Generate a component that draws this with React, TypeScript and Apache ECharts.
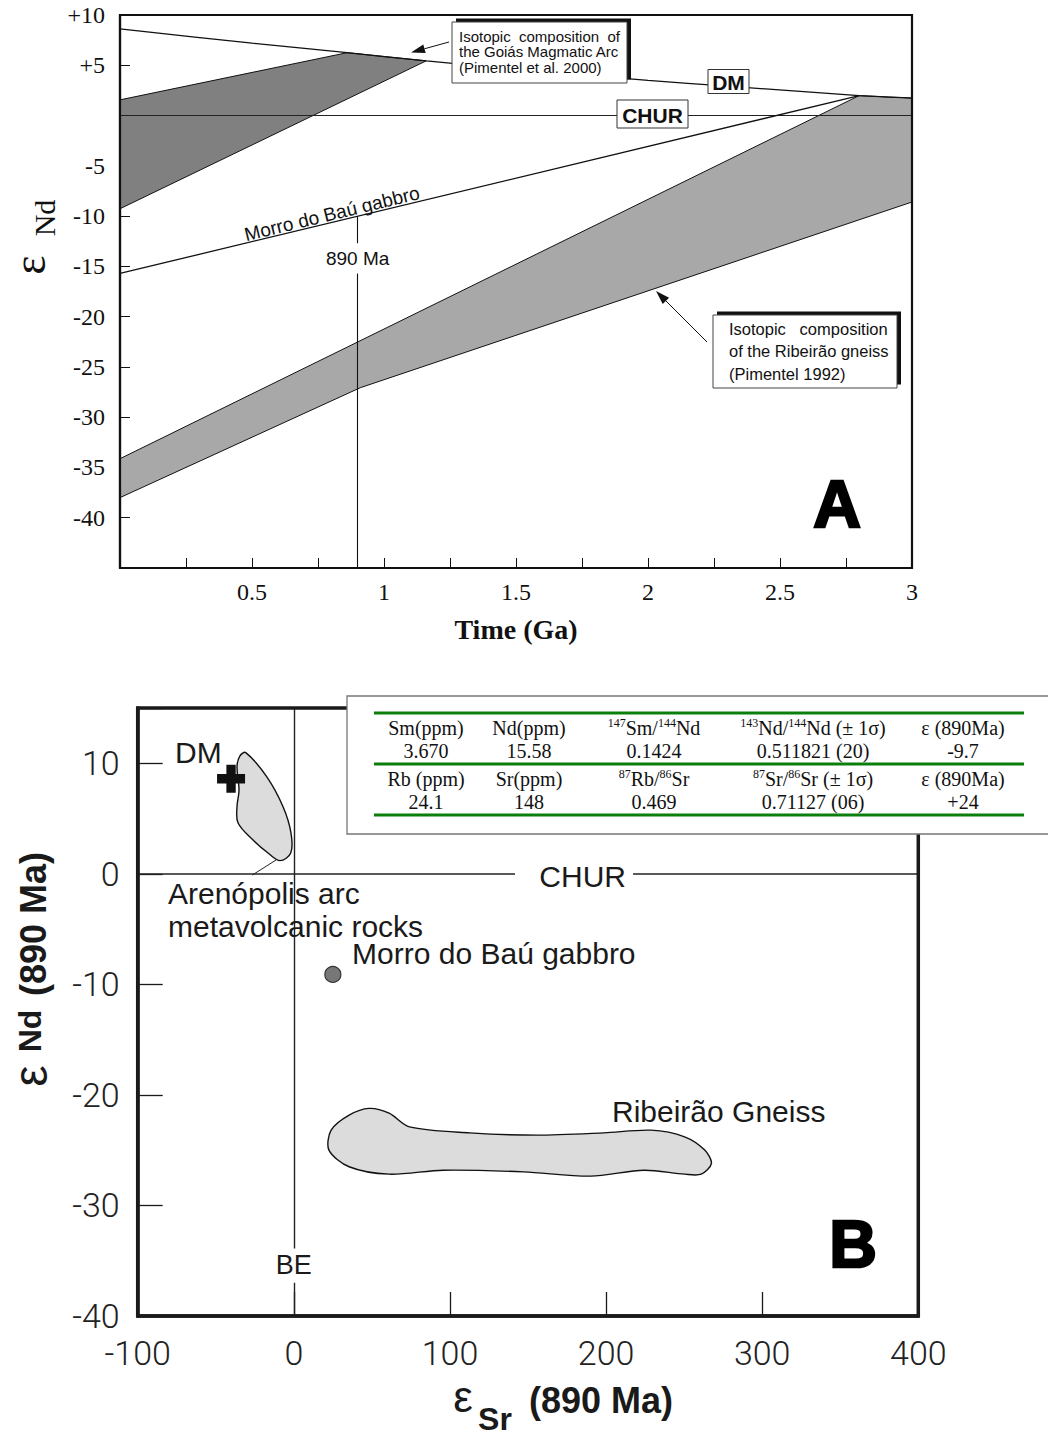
import React, { useEffect, useRef } from 'react';
import * as echarts from 'echarts';

const SERIF = "'Liberation Serif', 'Times New Roman', Times, serif";
const SANS = "'Liberation Sans', Arial, Helvetica, sans-serif";
const LIGHT = "Roboto, 'Liberation Sans', Arial, sans-serif";

// ---------------- Panel A data (Time in Ga vs eps Nd) ----------------
const timeLabelsA = [0.5, 1, 1.5, 2, 2.5, 3];
const ndLabelOverridesA: Record<string, string> = { '10': '+10', '5': '+5', '0': '', '-45': '' };
const dmCurve = [[0, 8.62], [0.5, 7.2], [0.86, 6.25], [1.16, 5.44], [1.5, 4.6], [2.0, 3.5], [2.3, 2.93], [2.8, 1.98], [3.0, 1.74]];
const churLineA = [[0, 0], [3, 0]];
const goiasBand = [[0, 1.56], [0.86, 6.25], [1.16, 5.44], [0, -9.27]];
const ribeiraoBand = [[0, -34.13], [2.8, 1.98], [3.0, 1.74], [3.0, -8.6], [0.91, -27.07], [0, -38.0]];
const morroLineA = [[0, -15.7], [2.8, 1.98]];
const age890Segments = [[[0.9, -10.0], [0.9, -12.7]], [[0.9, -15.7], [0.9, -45]]];
const labelsA = [
  { text: '890 Ma', at: [0.9, -14.2], rotate: 0 },
  { text: 'Morro do Baú gabbro', at: [0.803, -9.75], rotate: 13.7 },
];

// ---------------- Panel B data (eps Sr vs eps Nd at 890 Ma) ----------------
const ndLabelOverridesB: Record<string, string> = { '15': '' };
const arenopolisField = [
  [-30.8, 10.96], [-17.4, 8.79], [-6.9, 6.07], [-1.8, 3.69], [-2.0, 1.88], [-8.8, 1.19],
  [-16.5, 1.88], [-26.1, 3.06], [-35.7, 4.6], [-36.4, 6.07], [-35.1, 7.58], [-36.4, 9.69], [-34.5, 10.66],
];
const ribeiraoField = [
  [48.2, -21.22], [61.0, -21.65], [74.1, -22.89], [112.7, -23.43], [155.8, -23.64], [198.7, -23.43],
  [228.8, -23.19], [250.3, -23.79], [263.2, -24.99], [267.5, -26.2], [261.0, -27.17], [250.3, -27.17],
  [224.3, -26.81], [190.1, -27.35], [147.1, -26.96], [95.6, -26.81], [61.0, -27.17], [35.4, -26.5],
  [22.5, -24.99], [23.9, -23.19], [35.4, -21.83],
];
const dmPointB = [-40.2, 8.6];
const morroPointB = [25, -9.1];
const churSegmentsB = [[[-100, 0], [141.7, 0]], [[217.3, 0], [400, 0]]];
const beSegmentsB = [[[0, 15], [0, -33.9]], [[0, -37.0], [0, -40]]];
const leaderLineB = [[-11.4, 1.25], [-26.6, -0.11]];
const labelsB = [
  { text: 'DM', at: [-76.1, 11.0], align: 'left' },
  { text: 'Arenópolis arc\nmetavolcanic rocks', at: [-80.6, -3.23], align: 'left' },
  { text: 'Morro do Baú gabbro', at: [37.3, -7.17], align: 'left' },
  { text: 'Ribeirão Gneiss', at: [203.8, -21.47], align: 'left' },
  { text: 'CHUR', at: [185, -0.2], align: 'center' },
  { text: 'BE', at: [0, -35.4], align: 'center' },
];

// ---------------- Table ----------------
const ndHeaders = ['Sm(ppm)', 'Nd(ppm)', '{s|147}Sm/{s|144}Nd', '{s|143}Nd/{s|144}Nd (± 1σ)', 'ε (890Ma)'];
const ndValues = ['3.670', '15.58', '0.1424', '0.511821 (20)', '-9.7'];
const srHeaders = ['Rb (ppm)', 'Sr(ppm)', '{s|87}Rb/{s|86}Sr', '{s|87}Sr/{s|86}Sr (± 1σ)', 'ε (890Ma)'];
const srValues = ['24.1', '148', '0.469', '0.71127 (06)', '+24'];

// ---------------- layout ----------------
const GA = { left: 120, top: 15, width: 792, height: 553 };
const GB = { left: 137.7, top: 708, width: 780.6, height: 608 };

const polySeries = (pts: number[][], fill: string, gi: number, smooth: number, lw: number) => ({
  type: 'custom',
  coordinateSystem: 'cartesian2d',
  xAxisIndex: gi,
  yAxisIndex: gi,
  silent: true,
  z: 1,
  clip: true,
  data: [pts[0]],
  renderItem: (_p: any, api: any) => ({
    type: 'polygon',
    shape: { points: pts.map((p) => api.coord(p)), smooth },
    style: { fill, stroke: '#111', lineWidth: lw },
  }),
});

const segSeries = (segs: number[][][], gi: number, width: number, color: string) => ({
  type: 'lines',
  coordinateSystem: 'cartesian2d',
  xAxisIndex: gi,
  yAxisIndex: gi,
  silent: true,
  z: 3,
  data: segs.map((s) => ({ coords: s })),
  lineStyle: { color, width, opacity: 1, curveness: 0 },
});

const txt = (x: number, y: number, text: string, o: any = {}) => ({
  type: 'text',
  x,
  y,
  rotation: o.rot || 0,
  z: 80,
  silent: true,
  style: {
    text,
    x: 0,
    y: 0,
    fontSize: o.size || 16,
    fontFamily: o.family || SANS,
    fontWeight: o.weight || 'normal',
    fill: o.color || '#111',
    align: o.align || 'center',
    verticalAlign: o.va || 'middle',
    lineHeight: o.lh,
    rich: o.rich,
    stroke: o.stroke,
    lineWidth: o.strokeWidth,
  },
});

const arrow = (tail: number[], tip: number[]) => {
  const dx = tip[0] - tail[0];
  const dy = tip[1] - tail[1];
  const L = Math.sqrt(dx * dx + dy * dy);
  const ux = dx / L;
  const uy = dy / L;
  const hl = 14;
  const hw = 4.5;
  const bx = tip[0] - ux * hl;
  const by = tip[1] - uy * hl;
  return [
    { type: 'line', z: 75, silent: true, shape: { x1: tail[0], y1: tail[1], x2: bx, y2: by }, style: { stroke: '#111', lineWidth: 1 } },
    {
      type: 'polygon', z: 75, silent: true,
      shape: { points: [[tip[0], tip[1]], [bx - uy * hw, by + ux * hw], [bx + uy * hw, by - ux * hw]] },
      style: { fill: '#111' },
    },
  ];
};

const boxedNote = (x: number, y: number, w: number, h: number, text: string, tx: number, ty: number, size: number, lh: number) => [
  { type: 'rect', z: 70, silent: true, shape: { x: x + 4, y: y - 3.5, width: w, height: h }, style: { fill: '#111' } },
  { type: 'rect', z: 71, silent: true, shape: { x, y, width: w, height: h }, style: { fill: '#fff', stroke: '#444', lineWidth: 1 } },
  txt(tx, ty, text, { size, lh, align: 'left', va: 'top', family: SANS, color: '#111' }),
];

const labelBox = (cx: number, cy: number, w: number, h: number, text: string) => [
  { type: 'rect', z: 72, silent: true, shape: { x: cx - w / 2, y: cy - h / 2, width: w, height: h }, style: { fill: '#fff', stroke: '#333', lineWidth: 1 } },
  txt(cx, cy + 1, text, { size: 21, weight: 'bold', family: SANS, color: '#111' }),
];

export default function App() {
  const ref = useRef<HTMLDivElement>(null);

  useEffect(() => {
    if (!ref.current) return;
    const chart = echarts.init(ref.current, undefined, { renderer: 'svg' });

    const tableCols = [426, 529, 654, 813, 963];
    const tableRows = [728, 751, 779, 802];
    const richSup = {
      s: { fontSize: 12, fontFamily: SERIF, verticalAlign: 'top', lineHeight: 9, fill: '#111' },
    };
    const tableTexts: any[] = [];
    [ndHeaders, ndValues, srHeaders, srValues].forEach((row, ri) => {
      row.forEach((t, ci) => {
        tableTexts.push(
          txt(tableCols[ci], tableRows[ri], t, { size: 20, family: SERIF, color: '#111', lh: 22, rich: richSup }),
        );
      });
    });

    const graphics: any[] = [
      // frames
      { type: 'rect', z: 50, silent: true, shape: { x: GA.left, y: GA.top, width: GA.width, height: GA.height }, style: { fill: 'none', stroke: '#111', lineWidth: 2.2 } },
      { type: 'rect', z: 50, silent: true, shape: { x: GB.left, y: GB.top, width: GB.width, height: GB.height }, style: { fill: 'none', stroke: '#1a1a1a', lineWidth: 3.5 } },
      // Panel A y-axis title
      txt(29, 265, 'ε', { size: 46, family: SERIF, rot: Math.PI / 2 }),
      txt(44, 218, 'Nd', { size: 30, family: SERIF, rot: Math.PI / 2 }),
      // Panel A notes
      ...boxedNote(452, 22, 175, 61, 'Isotopic  composition  of\nthe Goiás Magmatic Arc\n(Pimentel et al. 2000)', 459, 28.5, 15, 15.5),
      ...arrow([449, 42], [411, 52.5]),
      ...boxedNote(713, 315, 184, 73, 'Isotopic   composition\nof the Ribeirão gneiss\n(Pimentel 1992)', 729, 318, 16.5, 22.2),
      ...arrow([707, 342], [656, 291]),
      ...labelBox(728.5, 81.5, 41, 24, 'DM'),
      ...labelBox(652.5, 114, 71, 28, 'CHUR'),
      txt(837, 504, 'A', { size: 66, weight: 'bold', family: SANS, color: '#000', stroke: '#000', strokeWidth: 2.5 }),
      // Panel B table
      { type: 'rect', z: 60, silent: true, shape: { x: 347, y: 696, width: 720, height: 138 }, style: { fill: '#fff', stroke: '#777', lineWidth: 1.3 } },
      ...[713, 764, 815].map((yy) => ({ type: 'line', z: 65, silent: true, shape: { x1: 374, y1: yy, x2: 1024, y2: yy }, style: { stroke: '#0a7f0a', lineWidth: 3 } })),
      ...tableTexts,
      // Panel B axis titles
      txt(30, 1076, 'ε', { size: 48, family: SANS, rot: Math.PI / 2, color: '#1a1a1a' }),
      txt(30, 1031, 'Nd', { size: 32, weight: 'bold', family: SANS, rot: Math.PI / 2, color: '#1a1a1a' }),
      txt(33, 924, '(890 Ma)', { size: 36, weight: 'bold', family: SANS, rot: Math.PI / 2, color: '#1a1a1a' }),
      txt(463, 1396, 'ε', { size: 44, family: SANS, color: '#1a1a1a' }),
      txt(495, 1419, 'Sr', { size: 32, weight: 'bold', family: SANS, color: '#1a1a1a' }),
      txt(601, 1400, '(890 Ma)', { size: 36, weight: 'bold', family: SANS, color: '#1a1a1a' }),
      txt(853, 1244, 'B', { size: 66, weight: 'bold', family: SANS, color: '#000', stroke: '#000', strokeWidth: 2.5 }),
    ];

    const option: any = {
      animation: false,
      backgroundColor: '#fff',
      grid: [
        { ...GA, show: false },
        { ...GB, show: false },
      ],
      xAxis: [
        {
          gridIndex: 0, type: 'value', min: 0, max: 3, interval: 0.25, position: 'bottom',
          axisLine: { show: true, onZero: false, lineStyle: { color: '#111', width: 2.2 } },
          axisTick: { show: true, inside: true, length: 10, lineStyle: { color: '#111', width: 1 } },
          axisLabel: {
            show: true, margin: 12, fontFamily: SERIF, fontSize: 24, color: '#111',
            formatter: (v: number) => (timeLabelsA.some((t) => Math.abs(t - v) < 1e-6) ? String(v) : ''),
          },
          splitLine: { show: false },
          name: 'Time (Ga)', nameLocation: 'middle', nameGap: 47,
          nameTextStyle: { fontFamily: SERIF, fontWeight: 'bold', fontSize: 28, color: '#111' },
        },
        {
          gridIndex: 1, type: 'value', min: -100, max: 400, interval: 100, position: 'bottom',
          axisLine: { show: true, onZero: false, lineStyle: { color: '#1a1a1a', width: 3.5 } },
          axisTick: { show: true, inside: true, length: 24, lineStyle: { color: '#1a1a1a', width: 1.3 } },
          axisLabel: { show: true, margin: 20, fontFamily: LIGHT, fontWeight: 300, fontSize: 34, color: '#222' },
          splitLine: { show: false },
        },
      ],
      yAxis: [
        {
          gridIndex: 0, type: 'value', min: -45, max: 10, interval: 5, position: 'left',
          axisLine: { show: true, onZero: false, lineStyle: { color: '#111', width: 2.2 } },
          axisTick: { show: true, inside: true, length: 10, lineStyle: { color: '#111', width: 1 } },
          axisLabel: {
            show: true, margin: 15, fontFamily: SERIF, fontSize: 24, color: '#111',
            formatter: (v: number) => (String(v) in ndLabelOverridesA ? ndLabelOverridesA[String(v)] : String(v)),
          },
          splitLine: { show: false },
        },
        {
          gridIndex: 1, type: 'value', min: -40, max: 15, interval: 10, position: 'left',
          axisLine: { show: true, onZero: false, lineStyle: { color: '#1a1a1a', width: 3.5 } },
          axisTick: { show: true, inside: true, length: 25, lineStyle: { color: '#1a1a1a', width: 1.3 } },
          axisLabel: {
            show: true, margin: 18, fontFamily: LIGHT, fontWeight: 300, fontSize: 34, color: '#222',
            formatter: (v: number) => (String(v) in ndLabelOverridesB ? ndLabelOverridesB[String(v)] : String(v)),
          },
          splitLine: { show: false },
        },
      ],
      series: [
        // ---- Panel A ----
        polySeries(ribeiraoBand, '#a8a8a8', 0, 0, 1),
        polySeries(goiasBand, '#808080', 0, 0, 1),
        {
          type: 'line', xAxisIndex: 0, yAxisIndex: 0, data: dmCurve, smooth: 0.3, showSymbol: false, silent: true, z: 3,
          lineStyle: { color: '#111', width: 1.3 },
        },
        {
          type: 'line', xAxisIndex: 0, yAxisIndex: 0, data: churLineA, showSymbol: false, silent: true, z: 3,
          lineStyle: { color: '#222', width: 1.1 },
        },
        {
          type: 'line', xAxisIndex: 0, yAxisIndex: 0, data: morroLineA, showSymbol: false, silent: true, z: 3,
          lineStyle: { color: '#111', width: 1.3 },
        },
        segSeries(age890Segments, 0, 1.1, '#111'),
        {
          type: 'scatter', xAxisIndex: 0, yAxisIndex: 0, symbolSize: 0, silent: true, z: 4,
          itemStyle: { opacity: 1 },
          data: labelsA.map((l) => ({
            value: l.at,
            label: {
              show: true, position: 'inside', formatter: l.text, rotate: l.rotate, opacity: 1,
              fontFamily: SANS, fontSize: 19, color: '#111', align: 'center', verticalAlign: 'middle',
            },
          })),
        },
        // ---- Panel B ----
        polySeries(arenopolisField, '#dcdcdc', 1, 0.35, 1.4),
        polySeries(ribeiraoField, '#dcdcdc', 1, 0.3, 1.4),
        segSeries(churSegmentsB, 1, 1.5, '#222'),
        segSeries(beSegmentsB, 1, 1.4, '#222'),
        segSeries([leaderLineB], 1, 1, '#222'),
        {
          type: 'scatter', xAxisIndex: 1, yAxisIndex: 1, silent: true, z: 5,
          symbol: 'path://M3,0H6V3H9V6H6V9H3V6H0V3H3Z', symbolSize: 28,
          itemStyle: { color: '#111', opacity: 1 },
          data: [dmPointB],
        },
        {
          type: 'scatter', xAxisIndex: 1, yAxisIndex: 1, silent: true, z: 5,
          symbol: 'circle', symbolSize: 16,
          itemStyle: { color: '#777', borderColor: '#333', borderWidth: 1.2, opacity: 1 },
          data: [morroPointB],
        },
        {
          type: 'scatter', xAxisIndex: 1, yAxisIndex: 1, symbolSize: 0, silent: true, z: 6,
          itemStyle: { opacity: 1 },
          data: labelsB.map((l) => ({
            value: l.at,
            label: {
              show: true, position: 'inside', formatter: l.text, opacity: 1,
              fontFamily: SANS, fontSize: l.text === 'BE' ? 27 : 30, lineHeight: 33, color: '#1a1a1a',
              align: l.align, verticalAlign: 'middle',
            },
          })),
        },
      ],
      graphic: { elements: graphics },
    };

    chart.setOption(option);
    return () => chart.dispose();
  }, []);

  return (
    <div
      ref={ref}
      style={{ position: 'absolute', left: 0, top: 0, width: 1048, height: 1437, background: '#fff' }}
    />
  );
}
